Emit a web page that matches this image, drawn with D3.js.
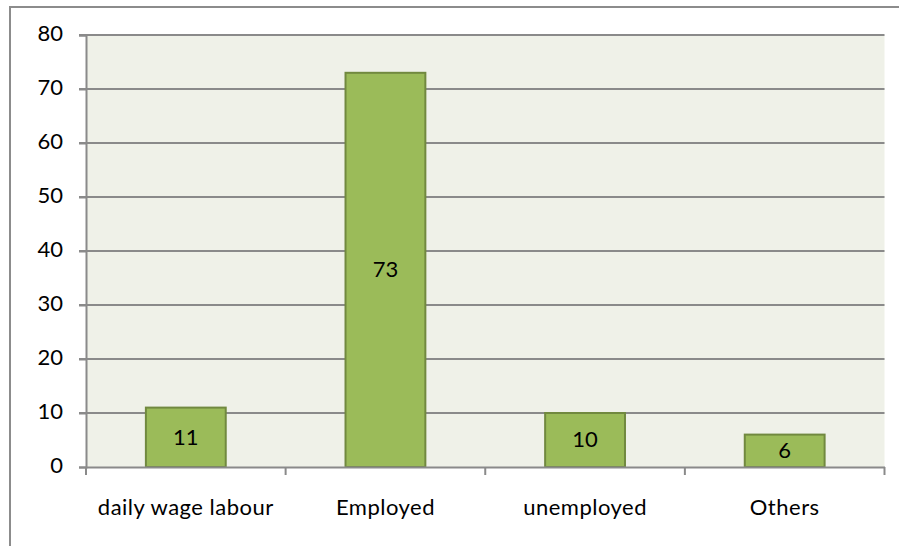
<!DOCTYPE html>
<html><head><meta charset="utf-8">
<script src="https://cdn.jsdelivr.net/npm/d3@7"></script>
<style>body{margin:0;background:#fff}svg{display:block}</style>
</head><body>
<script>
const categories = ["daily wage labour", "Employed", "unemployed", "Others"];
const values = [11, 73, 10, 6];
const yTicks = [0, 10, 20, 30, 40, 50, 60, 70, 80];

const W = 899, H = 546;
const font = "Lato, 'Open Sans', sans-serif";
const fs = 22;
const svg = d3.select("body").append("svg").attr("width", W).attr("height", H);

// outer chart border
svg.append("rect").attr("x", 10).attr("y", 7).attr("width", W).attr("height", H)
  .attr("fill", "#fff").attr("stroke", "#8c8c8c").attr("stroke-width", 2);

const pL = 86, pR = 884.5, pT = 35, pB = 467;
const x = d3.scaleBand().domain(categories).range([pL, pR]).paddingInner(0.6).paddingOuter(0.3);
const xb = d3.scaleBand().domain(categories).range([pL, pR]);
const y = d3.scaleLinear().domain([0, 80]).range([pB, pT]);

svg.append("rect").attr("x", pL).attr("y", pT).attr("width", pR - pL).attr("height", pB - pT)
  .attr("fill", "#eff1e8");

// gridlines
svg.append("g").selectAll("line").data(yTicks.filter(d => d > 0)).join("line")
  .attr("x1", pL - 7).attr("x2", pR).attr("y1", d => y(d)).attr("y2", d => y(d))
  .attr("stroke", "#8a8a8a").attr("stroke-width", 2);

// y axis
const ya = svg.append("g").attr("transform", `translate(${pL},0)`)
  .call(d3.axisLeft(y).tickValues(yTicks).tickSize(7).tickPadding(16));
ya.select(".domain").attr("stroke", "#8a8a8a").attr("stroke-width", 2);
ya.selectAll(".tick line").attr("stroke", "#8a8a8a").attr("stroke-width", 2);
ya.selectAll("text").attr("font-family", font).attr("font-size", fs).attr("fill", "#000").attr("dy", "0.27em");

// bars
svg.append("g").selectAll("rect").data(values).join("rect")
  .attr("x", (d, i) => x(categories[i])).attr("width", x.bandwidth())
  .attr("y", d => y(d)).attr("height", d => pB - y(d))
  .attr("fill", "#9bbb59").attr("stroke", "#71893f").attr("stroke-width", 2);

// x axis
const xa = svg.append("g").attr("transform", `translate(0,${pB})`)
  .call(d3.axisBottom(xb).tickSize(0).tickPadding(32));
xa.select(".domain").attr("stroke", "#8a8a8a").attr("stroke-width", 2);
xa.selectAll("text").attr("font-family", font).attr("font-size", fs).attr("fill", "#000")
  .attr("letter-spacing", "0.5px");
const bounds = categories.map(c => xb(c)).concat([pR]);
svg.append("g").selectAll("line").data(bounds).join("line")
  .attr("x1", d => d).attr("x2", d => d).attr("y1", pB).attr("y2", pB + 8)
  .attr("stroke", "#8a8a8a").attr("stroke-width", 2);

// data labels
svg.append("g").selectAll("text").data(values).join("text")
  .attr("x", (d, i) => x(categories[i]) + x.bandwidth() / 2)
  .attr("y", d => (y(d) + pB) / 2)
  .attr("dy", "0.34em").attr("text-anchor", "middle")
  .attr("font-family", font).attr("font-size", fs).attr("fill", "#000")
  .text(d => d);
</script>
</body></html>
